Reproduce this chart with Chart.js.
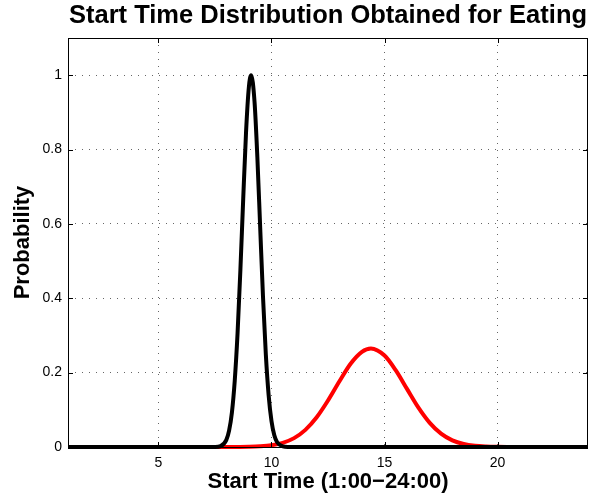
<!DOCTYPE html>
<html>
<head>
<meta charset="utf-8">
<script src="https://cdn.jsdelivr.net/npm/chart.js@4"></script>
<style>
  html, body { margin: 0; padding: 0; background: #fff; }
  #wrap { width: 590px; height: 500px; }
</style>
</head>
<body>
<div id="wrap"><canvas id="c" width="590" height="500"></canvas></div>
<script>
// Start hour values for the black (narrow) distribution
const blackX = [1, 7, 7.5, 7.75, 8, 8.125, 8.25, 8.375, 8.5, 8.625, 8.75, 8.875, 9, 9.1, 9.25, 9.375, 9.5, 9.625, 9.75, 9.875, 10, 10.125, 10.25, 10.5, 10.75, 11, 24];
const blackY = [0, 0, 0.0002, 0.0025, 0.0187, 0.044, 0.093, 0.178, 0.306, 0.476, 0.668, 0.847, 0.968, 1, 0.929, 0.780, 0.591, 0.404, 0.249, 0.139, 0.0697, 0.0316, 0.0129, 0.0016, 0.0001, 0, 0];

// Start hour values for the red (wide) distribution
const redX = [1, 8, 8.5, 9, 9.5, 10, 10.5, 11, 11.5, 12, 12.5, 13, 13.5, 14, 14.4, 15, 15.5, 16, 16.5, 17, 17.5, 18, 18.5, 19, 19.5, 20, 20.5, 21, 24];
const redY = [0, 0, 0.0002, 0.0006, 0.0018, 0.0047, 0.0112, 0.0239, 0.0461, 0.0799, 0.125, 0.176, 0.224, 0.256, 0.265, 0.246, 0.206, 0.1556, 0.1058, 0.0649, 0.0359, 0.0179, 0.0080, 0.0032, 0.0012, 0.0004, 0.0001, 0, 0];

const xTicks = [5, 10, 15, 20];
const yTicks = [0, 0.2, 0.4, 0.6, 0.8, 1];

const FONT = "'Liberation Sans', Arial, Helvetica, sans-serif";

const boxPlugin = {
  id: 'boxAndTicks',
  afterDatasetsDraw(chart) {
    const {ctx, chartArea: a, scales} = chart;
    ctx.save();
    ctx.strokeStyle = '#000';
    ctx.lineWidth = 1;
    ctx.setLineDash([]);
    ctx.strokeRect(Math.round(a.left) + 0.5, Math.round(a.top) + 0.5,
                   Math.round(a.right - a.left) - 1, Math.round(a.bottom - a.top));
    const L = 5;
    ctx.beginPath();
    xTicks.forEach(v => {
      const px = Math.round(scales.x.getPixelForValue(v)) + 0.5;
      ctx.moveTo(px, a.bottom); ctx.lineTo(px, a.bottom - L);
      ctx.moveTo(px, a.top); ctx.lineTo(px, a.top + L);
    });
    yTicks.forEach(v => {
      const py = Math.round(scales.y.getPixelForValue(v)) + 0.5;
      ctx.moveTo(a.left, py); ctx.lineTo(a.left + L, py);
      ctx.moveTo(a.right, py); ctx.lineTo(a.right - L, py);
    });
    ctx.stroke();
    ctx.restore();
  }
};

new Chart(document.getElementById('c'), {
  type: 'line',
  data: {
    datasets: [
      {
        data: blackX.map((x, i) => ({x, y: blackY[i]})),
        borderColor: '#000000',
        borderWidth: 4,
        pointRadius: 0,
        cubicInterpolationMode: 'monotone',
        fill: false,
        clip: false
      },
      {
        data: redX.map((x, i) => ({x, y: redY[i]})),
        borderColor: '#ff0000',
        borderWidth: 4,
        pointRadius: 0,
        cubicInterpolationMode: 'monotone',
        fill: false,
        clip: false
      }
    ]
  },
  plugins: [boxPlugin],
  options: {
    responsive: false,
    animation: false,
    layout: { padding: { left: 0, right: 2, top: 0, bottom: 0 } },
    plugins: {
      legend: { display: false },
      tooltip: { enabled: false },
      title: {
        display: true,
        fullSize: false,
        text: 'Start Time Distribution Obtained for Eating',
        color: '#000',
        font: { family: FONT, size: 25.5, weight: 'bold', lineHeight: 1.2 },
        padding: { top: 1, bottom: 6.4 }
      }
    },
    scales: {
      x: {
        type: 'linear',
        min: 1,
        max: 24,
        afterBuildTicks: s => { s.ticks = xTicks.map(v => ({value: v})); },
        afterFit: s => { s.height = 53; },
        grid: { color: '#666', lineWidth: 1, drawTicks: false },
        border: { display: false, dash: [1, 6] },
        ticks: { color: '#000', font: { family: FONT, size: 14 }, padding: 8, maxRotation: 0 },
        title: {
          display: true,
          text: 'Start Time (1:00\u221224:00)',
          color: '#000',
          font: { family: FONT, size: 22, weight: 'bold', lineHeight: 1.2 },
          padding: { top: 0, bottom: 5 }
        }
      },
      y: {
        type: 'linear',
        min: 0,
        max: 1.1,
        afterBuildTicks: s => { s.ticks = yTicks.map(v => ({value: v})); },
        afterFit: s => { s.width = 68; },
        grid: { color: '#666', lineWidth: 1, drawTicks: false },
        border: { display: false, dash: [1, 6] },
        ticks: { color: '#000', font: { family: FONT, size: 14 }, padding: 6,
                 callback: v => String(v) },
        title: {
          display: true,
          text: 'Probability',
          color: '#000',
          font: { family: FONT, size: 22, weight: 'bold', lineHeight: 1.2 },
          padding: { top: 10, bottom: 0 }
        }
      }
    }
  }
});
</script>
</body>
</html>
